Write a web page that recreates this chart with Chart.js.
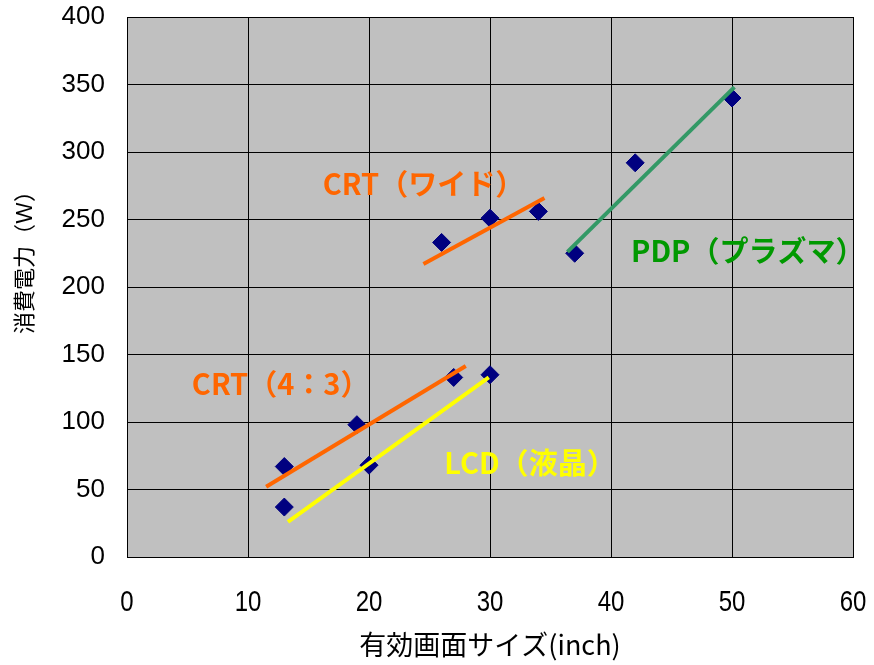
<!DOCTYPE html>
<html>
<head>
<meta charset="utf-8">
<script src="https://cdn.jsdelivr.net/npm/chart.js@4/dist/chart.umd.min.js"></script>
<style>
  body { margin: 0; background: #fff; }
</style>
</head>
<body>
<canvas id="myChart" width="874" height="665"></canvas>
<script>
// measured points (inch, W)
var crt43 = [[13, 67], [19, 98], [27, 133]];
var lcd = [[13, 37], [20, 68], [30, 135]];
var crtWide = [[26, 233], [30, 251], [34, 256]];
var pdp = [[37, 225], [42, 292], [50, 340]];

// trend lines (start, end)
var crt43Line = [[11.5, 52], [28, 141.5]];
var lcdLine = [[13.3, 26], [29.9, 133]];
var crtWideLine = [[24.5, 217], [34.5, 266]];
var pdpLine = [[36.4, 226], [50.2, 348]];

// labels next to the lines: [text, x, y]
var seriesLabels = [
  ['CRT（ワイド）', 24.5, 276],
  ['PDP（プラズマ）', 51.3, 227],
  ['CRT（4：3）', 12.7, 128],
  ['LCD（液晶）', 33.3, 70]
];
var labelColors = ['#FF6600', '#009900', '#FF6600', '#FFFF00'];

var xTicks = [0, 10, 20, 30, 40, 50, 60];
var yTicks = [0, 50, 100, 150, 200, 250, 300, 350, 400];
var xTitle = '有効画面サイズ(inch)';
var yTitle = '消費電力（Ｗ）';

function toXY(arr) {
  return arr.map(function(p) { return { x: p[0], y: p[1] }; });
}

var allPoints = [].concat(crt43, lcd, crtWide, pdp);

function lineSet(pts, color) {
  return {
    data: toXY(pts),
    showLine: true,
    borderColor: color,
    borderWidth: 4,
    pointRadius: 0,
    fill: false,
    order: 1
  };
}

var plotBg = {
  id: 'plotBg',
  beforeDraw: function(chart) {
    var a = chart.chartArea, ctx = chart.ctx;
    ctx.save();
    ctx.fillStyle = '#C0C0C0';
    ctx.fillRect(a.left, a.top, a.right - a.left, a.bottom - a.top);
    ctx.restore();
  },
  afterDraw: function(chart) {
    var ctx = chart.ctx;
    var xs = chart.scales.x, ys = chart.scales.y;
    ctx.save();
    ctx.font = 'bold 29px "Noto Sans CJK JP", sans-serif';
    ctx.textAlign = 'center';
    ctx.textBaseline = 'middle';
    seriesLabels.forEach(function(l, i) {
      ctx.fillStyle = labelColors[i];
      ctx.fillText(l[0], xs.getPixelForValue(l[1]), ys.getPixelForValue(l[2]));
    });
    // x tick labels, narrow like the original
    ctx.fillStyle = '#000';
    ctx.font = '30px "Liberation Sans", sans-serif';
    xTicks.forEach(function(v) {
      ctx.save();
      ctx.translate(xs.getPixelForValue(v), 603);
      ctx.scale(0.8, 1);
      ctx.fillText(String(v), 0, 0);
      ctx.restore();
    });
    // y axis title
    ctx.font = '22px "Noto Sans CJK JP", sans-serif';
    ctx.translate(24, 257);
    ctx.rotate(-Math.PI / 2);
    ctx.fillText(yTitle, 0, 0);
    ctx.restore();
  }
};

var ctx = document.getElementById('myChart').getContext('2d');
var myChart = new Chart(ctx, {
  type: 'scatter',
  data: {
    datasets: [
      {
        data: toXY(allPoints),
        pointStyle: 'rectRot',
        pointRadius: 9,
        backgroundColor: '#000080',
        borderColor: '#000080',
        borderWidth: 1,
        order: 2
      },
      lineSet(crt43Line, '#FF6600'),
      lineSet(lcdLine, '#FFFF00'),
      lineSet(crtWideLine, '#FF6600'),
      lineSet(pdpLine, '#339966')
    ]
  },
  options: {
    responsive: false,
    animation: false,
    layout: { padding: { top: 17, right: 21, left: 0, bottom: 0 } },
    plugins: {
      legend: { display: false },
      tooltip: { enabled: false }
    },
    scales: {
      x: {
        type: 'linear',
        position: 'bottom',
        min: 0,
        max: 60,
        afterBuildTicks: function(s) { s.ticks = xTicks.map(function(v) { return { value: v }; }); },
        afterFit: function(s) { s.height = 108; s.paddingLeft = 0; s.paddingRight = 0; },
        grid: { color: '#000', lineWidth: 1, drawTicks: false },
        border: { color: '#000', width: 1 },
        ticks: { display: false },
        title: {
          display: true,
          text: xTitle,
          color: '#000',
          padding: { top: 0, bottom: 4 },
          font: { family: '"Noto Sans CJK JP", sans-serif', size: 27 }
        }
      },
      y: {
        type: 'linear',
        min: 0,
        max: 400,
        afterBuildTicks: function(s) { s.ticks = yTicks.map(function(v) { return { value: v }; }); },
        afterFit: function(s) { s.width = 127; s.paddingTop = 0; s.paddingBottom = 0; },
        grid: { color: '#000', lineWidth: 1, drawTicks: false },
        border: { color: '#000', width: 1 },
        ticks: {
          color: '#000',
          padding: 22,
          font: { family: '"Liberation Sans", sans-serif', size: 26 }
        }
      }
    }
  },
  plugins: [plotBg]
});
</script>
</body>
</html>
